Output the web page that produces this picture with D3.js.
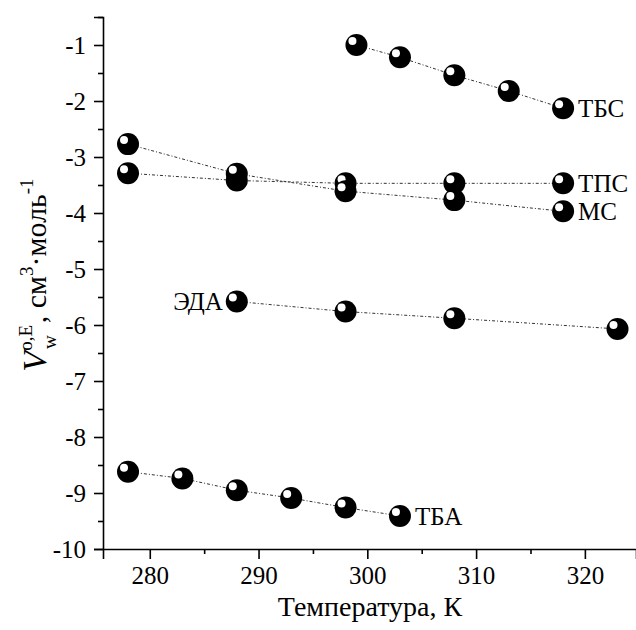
<!DOCTYPE html>
<html>
<head>
<meta charset="utf-8">
<script src="https://cdn.jsdelivr.net/npm/d3@7"></script>
<style>
  body { margin: 0; background: #fff; }
</style>
</head>
<body>
<script>
// series values: temperatures (K) and V (cm3/mol)
var tbsT = [299, 303, 308, 313, 318];
var tbsV = [-1.0, -1.22, -1.54, -1.82, -2.13];

var tpsT = [278, 288, 298, 308, 318];
var tpsV = [-3.29, -3.42, -3.47, -3.47, -3.47];

var msT = [278, 288, 298, 308, 318];
var msV = [-2.77, -3.30, -3.61, -3.77, -3.97];

var edaT = [288, 298, 308, 323];
var edaV = [-5.58, -5.76, -5.88, -6.07];

var tbaT = [278, 283, 288, 293, 298, 303];
var tbaV = [-8.62, -8.74, -8.95, -9.09, -9.26, -9.41];

var seriesNames = ["ТБС", "ТПС", "МС", "ЭДА", "ТБА"];

var xTicks = [280, 290, 300, 310, 320];
var xMinor = [285, 295, 305, 315];
var yTicks = [-1, -2, -3, -4, -5, -6, -7, -8, -9, -10];
var yMinor = [-0.5, -1.5, -2.5, -3.5, -4.5, -5.5, -6.5, -7.5, -8.5, -9.5];

var series = [
  { name: seriesNames[0], t: tbsT, v: tbsV, label: "end" },
  { name: seriesNames[1], t: tpsT, v: tpsV, label: "end" },
  { name: seriesNames[2], t: msT, v: msV, label: "end" },
  { name: seriesNames[3], t: edaT, v: edaV, label: "start" },
  { name: seriesNames[4], t: tbaT, v: tbaV, label: "end" }
];

var serif = "'Liberation Serif'";

var svg = d3.select("body").append("svg")
  .attr("width", 636)
  .attr("height", 630);

var x = d3.scaleLinear().domain([275.7, 324.7]).range([103, 636]);
var y = d3.scaleLinear().domain([-10, -0.5]).range([549, 17]);

// axes
svg.append("g").attr("transform", "translate(0,549)")
  .call(d3.axisBottom(x).tickValues(xTicks).tickSize(10).tickPadding(7).tickFormat(d3.format("d")));
svg.append("g").attr("transform", "translate(0,549)")
  .call(d3.axisBottom(x).tickValues(xMinor).tickSize(5).tickFormat(""))
  .select(".domain").remove();

svg.append("g").attr("transform", "translate(103,0)")
  .call(d3.axisLeft(y).tickValues(yTicks).tickSize(9).tickPadding(8).tickFormat(function (d) { return "-" + Math.abs(d); }));
svg.append("g").attr("transform", "translate(103,0)")
  .call(d3.axisLeft(y).tickValues(yMinor).tickSize(5).tickFormat(""))
  .select(".domain").remove();

svg.selectAll("g").attr("font-family", null).attr("font-size", null);
svg.selectAll(".domain").attr("stroke", "#000").attr("stroke-width", 1.6);
svg.selectAll(".tick line").attr("stroke", "#000").attr("stroke-width", 1.6);
svg.selectAll(".tick text")
  .attr("font-size", "25px")
  .style("font-family", serif)
  .attr("fill", "#000");

// dotted connecting lines
var line = d3.line()
  .x(function (d) { return x(d[0]); })
  .y(function (d) { return y(d[1]); });

series.forEach(function (s) {
  var pts = s.t.map(function (t, i) { return [t, s.v[i]]; });
  svg.append("path")
    .datum(pts)
    .attr("d", line)
    .attr("fill", "none")
    .attr("stroke", "#333")
    .attr("stroke-width", 1)
    .attr("stroke-dasharray", "3,2,1,2");
});

// markers
series.forEach(function (s) {
  var pts = s.t.map(function (t, i) { return [t, s.v[i]]; });
  var g = svg.append("g");
  g.selectAll("circle.ball")
    .data(pts).enter().append("circle")
    .attr("cx", function (d) { return x(d[0]); })
    .attr("cy", function (d) { return y(d[1]); })
    .attr("r", 11)
    .attr("fill", "#000");
  g.selectAll("circle.hl")
    .data(pts).enter().append("circle")
    .attr("cx", function (d) { return x(d[0]) - 4; })
    .attr("cy", function (d) { return y(d[1]) - 4; })
    .attr("r", 4)
    .attr("fill", "#fff");
});

// series labels
series.forEach(function (s) {
  var n = s.t.length;
  var i = s.label === "end" ? n - 1 : 0;
  svg.append("text")
    .attr("x", s.label === "end" ? x(s.t[i]) + 15 : x(s.t[i]) - 14)
    .attr("y", y(s.v[i]) + 9)
    .attr("text-anchor", s.label === "end" ? "start" : "end")
    .attr("font-size", "25px")
    .style("font-family", serif)
    .attr("fill", "#000")
    .text(s.name);
});

// x axis title
svg.append("text")
  .attr("x", 370)
  .attr("y", 616)
  .attr("text-anchor", "middle")
  .attr("font-size", "28px")
  .style("font-family", serif)
  .text("Температура, К");

// y axis title
var yt = svg.append("text")
  .attr("transform", "translate(46,275) rotate(-90)")
  .attr("text-anchor", "middle")
  .attr("font-size", "30px")
  .style("font-family", serif);
yt.append("tspan").attr("font-style", "italic").attr("font-size", "34px").text("V");
yt.append("tspan").attr("font-size", "19px").attr("dy", "-14").text("o,E");
yt.append("tspan").attr("font-size", "19px").attr("dx", "-24").attr("dy", "24").text("w");
yt.append("tspan").attr("dx", "12").attr("dy", "-10").text(", см");
yt.append("tspan").attr("font-size", "19px").attr("dy", "-13").text("3");
yt.append("tspan").attr("dy", "13").text("·моль");
yt.append("tspan").attr("font-size", "19px").attr("dy", "-13").text("-1");
</script>
</body>
</html>
